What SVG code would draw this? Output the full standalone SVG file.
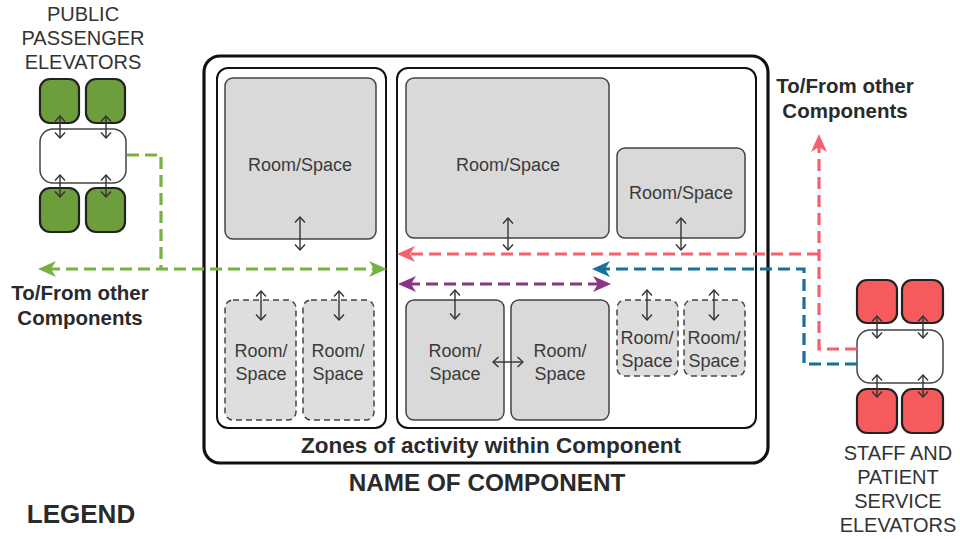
<svg xmlns="http://www.w3.org/2000/svg" width="960" height="539" viewBox="0 0 960 539">
  <style>
    .lbl { font-family: "Liberation Sans", Arial, sans-serif; fill: #3a3a3a; font-size: 18px; text-anchor: middle; }
    .cap { font-family: "Liberation Sans", Arial, sans-serif; fill: #333; font-size: 20px; text-anchor: middle; }
    .bold { font-family: "Liberation Sans", Arial, sans-serif; fill: #2a2a2a; font-weight: bold; text-anchor: middle; }
    .room { fill: #d9d9d9; stroke: #444; stroke-width: 1.5; }
    .room-d { fill: #dedede; stroke: #444; stroke-width: 1.5; stroke-dasharray: 6 4; }
    .zone { fill: #fff; stroke: #111; stroke-width: 2; }
    .dbl { stroke: #333; stroke-width: 1.4; fill: none; marker-start: url(#chev); marker-end: url(#chev); }
    .lift-g { fill: #6c9e3c; stroke: #222; stroke-width: 2.2; }
    .lift-r { fill: #f55a5c; stroke: #222; stroke-width: 2.2; }
    .lobby { fill: #fff; stroke: #444; stroke-width: 1.5; }
    .flow { fill: none; stroke-width: 3.2; stroke-dasharray: 12 6; }
  </style>
  <defs>
    <marker id="chev" viewBox="-7 -6 8 12" refX="0" refY="0" markerWidth="8" markerHeight="12" markerUnits="userSpaceOnUse" orient="auto-start-reverse">
      <path d="M-5.5,-5 L0,0 L-5.5,5" fill="none" stroke="#333" stroke-width="1.4"/>
    </marker>
    <marker id="ag" viewBox="0 0 18 16" refX="8" refY="8" markerWidth="18" markerHeight="16" markerUnits="userSpaceOnUse" orient="auto-start-reverse">
      <path d="M0,0 L18,8 L0,16 L5,8 Z" fill="#77b043"/>
    </marker>
    <marker id="ar" viewBox="0 0 18 16" refX="8" refY="8" markerWidth="18" markerHeight="16" markerUnits="userSpaceOnUse" orient="auto-start-reverse">
      <path d="M0,0 L18,8 L0,16 L5,8 Z" fill="#f5616a"/>
    </marker>
    <marker id="ab" viewBox="0 0 18 16" refX="8" refY="8" markerWidth="18" markerHeight="16" markerUnits="userSpaceOnUse" orient="auto-start-reverse">
      <path d="M0,0 L18,8 L0,16 L5,8 Z" fill="#1a6e9c"/>
    </marker>
    <marker id="ap" viewBox="0 0 18 16" refX="8" refY="8" markerWidth="18" markerHeight="16" markerUnits="userSpaceOnUse" orient="auto-start-reverse">
      <path d="M0,0 L18,8 L0,16 L5,8 Z" fill="#8a3585"/>
    </marker>
  </defs>

  <rect width="960" height="539" fill="#fff"/>

  <!-- Component -->
  <g id="component">
    <rect x="204" y="56" width="564" height="407" rx="16" fill="#fff" stroke="#111" stroke-width="3.2"/>
    <text class="bold" x="491" y="453" font-size="22.5">Zones of activity within Component</text>
    <text class="bold" x="487" y="491" font-size="24.3">NAME OF COMPONENT</text>
  </g>

  <!-- Left zone -->
  <g id="zone-left">
    <rect class="zone" x="217" y="68" width="169" height="360" rx="11"/>
    <g id="room-l1">
      <rect class="room" x="225" y="78" width="151" height="161" rx="8"/>
      <text class="lbl" x="300" y="171">Room/Space</text>
      <line class="dbl" x1="300" y1="217" x2="300" y2="250"/>
    </g>
    <g id="room-l2">
      <rect class="room-d" x="225" y="300" width="71" height="120" rx="8"/>
      <text class="lbl" x="261" y="357">Room/</text>
      <text class="lbl" x="261" y="380">Space</text>
      <line class="dbl" x1="261" y1="291" x2="261" y2="320"/>
    </g>
    <g id="room-l3">
      <rect class="room-d" x="303" y="300" width="71" height="120" rx="8"/>
      <text class="lbl" x="338" y="357">Room/</text>
      <text class="lbl" x="338" y="380">Space</text>
      <line class="dbl" x1="339" y1="291" x2="339" y2="320"/>
    </g>
  </g>

  <!-- Right zone -->
  <g id="zone-right">
    <rect class="zone" x="397" y="68" width="359" height="360" rx="11"/>
    <g id="room-r1">
      <rect class="room" x="406" y="78" width="203" height="160" rx="8"/>
      <text class="lbl" x="508" y="171">Room/Space</text>
      <line class="dbl" x1="508" y1="218" x2="508" y2="250"/>
    </g>
    <g id="room-r2">
      <rect class="room" x="617" y="148" width="128" height="90" rx="8"/>
      <text class="lbl" x="681" y="199">Room/Space</text>
      <line class="dbl" x1="681" y1="218" x2="681" y2="250"/>
    </g>
    <g id="room-r3">
      <rect class="room" x="406" y="300" width="98" height="120" rx="8"/>
      <text class="lbl" x="455" y="357">Room/</text>
      <text class="lbl" x="455" y="380">Space</text>
      <line class="dbl" x1="455" y1="290" x2="455" y2="319"/>
    </g>
    <g id="room-r4">
      <rect class="room" x="511" y="300" width="98" height="120" rx="8"/>
      <text class="lbl" x="560" y="357">Room/</text>
      <text class="lbl" x="560" y="380">Space</text>
    </g>
    <line class="dbl" x1="493" y1="362" x2="523" y2="362"/>
    <g id="room-r5">
      <rect class="room-d" x="617" y="300" width="61" height="76" rx="8"/>
      <text class="lbl" x="647" y="344">Room/</text>
      <text class="lbl" x="647" y="367">Space</text>
      <line class="dbl" x1="647" y1="290" x2="647" y2="320"/>
    </g>
    <g id="room-r6">
      <rect class="room-d" x="684" y="300" width="61" height="76" rx="8"/>
      <text class="lbl" x="714" y="344">Room/</text>
      <text class="lbl" x="714" y="367">Space</text>
      <line class="dbl" x1="714" y1="290" x2="714" y2="320"/>
    </g>
  </g>

  <!-- Public passenger elevators -->
  <g id="public-elevators">
    <text class="cap" x="83" y="21">PUBLIC</text>
    <text class="cap" x="83" y="45">PASSENGER</text>
    <text class="cap" x="83" y="69">ELEVATORS</text>
    <rect class="lift-g" x="40" y="79" width="39" height="44" rx="10"/>
    <rect class="lift-g" x="86" y="79" width="39" height="44" rx="10"/>
    <rect class="lift-g" x="40" y="188" width="39" height="44" rx="10"/>
    <rect class="lift-g" x="86" y="188" width="39" height="44" rx="10"/>
    <rect class="lobby" x="40" y="129" width="86" height="54" rx="13"/>
    <line class="dbl" x1="60" y1="116" x2="60" y2="138"/>
    <line class="dbl" x1="106" y1="116" x2="106" y2="138"/>
    <line class="dbl" x1="60" y1="175" x2="60" y2="197"/>
    <line class="dbl" x1="106" y1="175" x2="106" y2="197"/>
  </g>

  <!-- Staff and patient service elevators -->
  <g id="service-elevators">
    <rect class="lift-r" x="857" y="280" width="40" height="43" rx="10"/>
    <rect class="lift-r" x="902" y="280" width="41" height="43" rx="10"/>
    <rect class="lift-r" x="857" y="389" width="40" height="44" rx="10"/>
    <rect class="lift-r" x="902" y="389" width="41" height="44" rx="10"/>
    <rect class="lobby" x="857" y="330" width="86" height="53" rx="13"/>
    <line class="dbl" x1="877" y1="316" x2="877" y2="338"/>
    <line class="dbl" x1="923" y1="316" x2="923" y2="338"/>
    <line class="dbl" x1="877" y1="375" x2="877" y2="397"/>
    <line class="dbl" x1="923" y1="375" x2="923" y2="397"/>
    <text class="cap" x="898" y="460">STAFF AND</text>
    <text class="cap" x="898" y="484">PATIENT</text>
    <text class="cap" x="898" y="508">SERVICE</text>
    <text class="cap" x="898" y="532">ELEVATORS</text>
  </g>

  <!-- Labels -->
  <g id="labels">
    <text class="bold" x="80" y="300" font-size="20.5">To/From other</text>
    <text class="bold" x="80" y="325" font-size="20.5">Components</text>
    <text class="bold" x="845" y="93" font-size="20.5">To/From other</text>
    <text class="bold" x="845" y="118" font-size="20.5">Components</text>
    <text class="bold" x="81" y="523" font-size="26" fill="#111">LEGEND</text>
  </g>

  <!-- Connectors -->
  <g id="connectors">
    <path class="flow" stroke="#77b043" d="M127,155 H161 V269"/>
    <path class="flow" stroke="#77b043" d="M48,269 H377" marker-start="url(#ag)" marker-end="url(#ag)"/>
    <path class="flow" stroke="#f5616a" d="M857,349 H819 V144" marker-end="url(#ar)"/>
    <path class="flow" stroke="#f5616a" d="M819,254 H407" marker-end="url(#ar)"/>
    <path class="flow" stroke="#1a6e9c" d="M857,364 H804 V269 H602" marker-end="url(#ab)"/>
    <path class="flow" stroke="#8a3585" d="M408,284 H601" marker-start="url(#ap)" marker-end="url(#ap)"/>
  </g>
</svg>
